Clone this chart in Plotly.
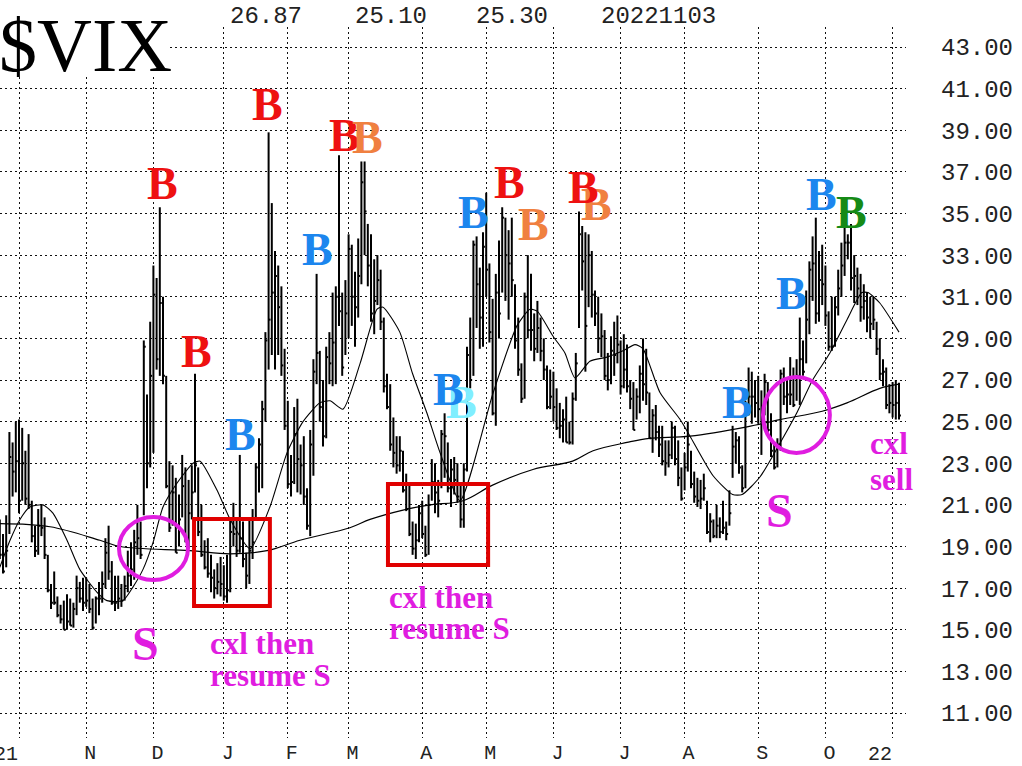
import plotly.graph_objects as go

# ---------------- data ----------------
month_labels = ["21", "N", "D", "J", "F", "M", "A", "M", "J", "J", "A", "S", "O", "22"]
month_lengths = [21, 21, 22, 20, 19, 23, 20, 21, 21, 20, 23, 21, 21]   # trading days Oct-21 .. Oct-22
first_day = -6                                                          # Sep 23 2021, relative to Oct 1 2021
last_date = "20221103"

vix_high = [
    20.3, 19.6, 20.5, 24.5, 24.0, 25.0,
    25.1, 24.7, 23.6, 24.4, 21.2, 20.0, 20.8, 21.0, 20.4, 18.6, 17.2, 17.8, 16.6, 16.2, 16.4, 16.7, 16.5, 16.3, 17.6, 17.3, 17.5,
    17.5, 17.2, 16.5, 16.6, 17.3, 17.8, 19.4, 20.0, 18.3, 17.6, 17.6, 17.2, 17.6, 18.8, 19.2, 19.8, 21.0, 20.2, 28.9, 26.3, 29.8,
    32.5, 31.9, 35.3, 31.0, 27.2, 23.1, 22.9, 22.3, 21.5, 23.4, 22.8, 22.2, 22.9, 27.3, 22.8, 21.0, 19.3, 19.4, 18.6, 17.9, 18.2, 18.5,
    18.1, 18.6, 20.3, 21.1, 20.4, 23.4, 20.2, 18.7, 20.3, 20.8, 23.0, 24.2, 26.0, 29.3, 38.9, 35.5, 33.2, 32.5, 31.5, 28.5,
    26.0, 23.4, 25.7, 26.1, 23.9, 24.3, 21.8, 24.6, 28.0, 32.1, 28.4, 27.0, 28.6, 29.3, 31.2, 31.5, 37.8, 31.2, 31.8,
    34.0, 33.5, 32.2, 33.8, 37.5, 37.5, 34.5, 34.0, 32.8, 33.0, 32.3, 30.0, 27.3, 26.8, 25.2, 24.3, 24.3, 23.6, 22.5, 22.1, 20.2, 20.1, 21.0,
    21.2, 20.0, 21.5, 23.2, 23.0, 22.2, 24.6, 25.4, 24.0, 23.2, 23.3, 23.0, 22.0, 23.0, 28.6, 30.0, 33.7, 33.9, 32.4, 34.1,
    36.0, 32.6, 30.9, 32.1, 33.7, 35.3, 34.8, 34.2, 34.8, 31.6, 30.0, 27.8, 31.2, 33.0, 32.1, 30.2, 30.8, 30.0, 29.0, 27.7, 27.5,
    27.4, 26.6, 25.9, 25.6, 26.2, 25.0, 26.4, 28.3, 35.1, 34.4, 34.1, 34.0, 33.2, 31.3, 31.0, 30.2, 29.4, 28.3, 29.1, 29.8, 30.1,
    28.9, 29.2, 28.7, 27.0, 26.9, 26.6, 27.7, 29.0, 28.5, 26.4, 25.6, 25.8, 24.8, 24.8, 24.1, 24.1, 25.0, 24.8, 24.1, 22.8,
    23.5, 25.0, 23.6, 22.6, 22.3, 22.2, 22.5, 21.2, 20.6, 20.3, 21.0, 20.4, 21.2, 20.2, 21.7, 24.8, 24.5, 24.3, 22.9, 26.0, 27.6, 27.4, 27.0,
    27.2, 26.5, 27.3, 26.9, 25.4, 23.9, 24.2, 27.5, 27.6, 27.1, 28.1, 27.6, 28.0, 30.0, 28.9, 31.3, 32.7, 33.9, 34.8, 33.2, 33.5,
    32.5, 30.3, 31.0, 31.0, 32.3, 33.6, 34.5, 34.0, 34.5, 33.0, 32.4, 32.1, 31.6, 31.2, 31.0, 31.0, 29.8, 29.0, 28.0, 27.6, 26.8,
    26.9, 27.0, 26.87,
]
vix_low = [
    18.4, 17.7, 18.0, 19.6, 21.4, 21.6,
    20.6, 21.2, 21.0, 20.8, 19.2, 18.5, 18.6, 19.5, 18.4, 16.8, 16.0, 16.2, 15.6, 15.3, 15.0, 15.0, 15.2, 15.1, 15.7, 16.3, 15.9,
    16.1, 15.8, 15.0, 15.3, 15.7, 16.3, 17.0, 17.4, 16.2, 15.9, 16.0, 16.1, 16.4, 16.8, 17.1, 17.4, 18.6, 18.4, 20.5, 21.8, 22.8,
    23.5, 27.5, 27.2, 26.8, 21.8, 19.7, 20.0, 18.7, 19.0, 20.4, 19.2, 18.9, 20.3, 21.6, 19.5, 18.5, 17.9, 17.5, 16.8, 16.5, 16.7, 16.6,
    16.4, 16.3, 16.8, 19.0, 18.5, 18.7, 18.0, 17.0, 17.2, 18.4, 20.4, 21.6, 21.8, 25.0, 27.5, 28.2, 27.5, 28.2, 27.2, 24.6,
    21.8, 21.4, 22.0, 21.6, 21.5, 21.0, 19.8, 19.5, 22.4, 26.8, 25.0, 23.8, 24.2, 26.8, 26.7, 26.8, 29.6, 27.2, 28.2,
    29.0, 29.6, 28.6, 30.0, 31.6, 33.0, 31.5, 29.8, 29.2, 30.6, 29.4, 26.4, 25.6, 23.6, 22.8, 22.5, 22.6, 21.6, 20.7, 19.5, 18.6, 18.4, 19.2,
    19.4, 18.5, 18.6, 21.2, 20.6, 20.4, 21.8, 22.3, 21.6, 20.9, 21.5, 21.1, 19.9, 19.9, 22.6, 26.6, 27.2, 29.5, 28.5, 28.6,
    31.0, 28.8, 25.3, 24.8, 29.0, 31.2, 30.8, 29.9, 31.0, 28.5, 27.2, 25.9, 26.1, 29.0, 28.4, 27.9, 28.3, 27.9, 27.0, 25.6, 25.6,
    25.0, 24.6, 24.2, 24.0, 24.0, 23.9, 23.9, 26.0, 29.5, 31.3, 27.4, 30.5, 30.0, 29.6, 28.3, 28.1, 27.0, 26.5, 26.8, 27.2, 27.8,
    26.3, 26.6, 26.4, 25.6, 24.6, 25.1, 25.4, 26.0, 25.8, 24.2, 23.5, 24.1, 23.3, 22.9, 22.4, 22.8, 23.2, 22.9, 21.9, 21.2,
    21.7, 22.6, 21.8, 21.1, 20.9, 20.8, 21.2, 19.6, 19.2, 19.4, 19.4, 19.4, 19.6, 19.3, 20.0, 22.3, 23.0, 22.5, 21.6, 21.8, 25.3, 24.9, 25.2,
    24.9, 23.4, 25.3, 24.5, 23.3, 22.7, 22.8, 23.6, 25.8, 25.4, 25.8, 25.7, 26.0, 25.8, 27.2, 27.8, 29.2, 30.8, 29.7, 29.8, 30.6,
    29.6, 28.4, 28.4, 28.6, 30.1, 31.0, 32.0, 32.8, 31.3, 30.7, 30.6, 29.8, 29.9, 29.3, 29.0, 29.4, 28.2, 27.0, 26.7, 25.6, 25.4,
    25.2, 25.1, 25.10,
]
vix_close = [
    18.6, 17.8, 18.8, 23.3, 22.6, 23.1,
    21.2, 23.0, 21.3, 21.0, 19.5, 18.8, 20.0, 19.9, 18.6, 16.9, 16.3, 16.3, 15.7, 15.5, 15.0, 15.4, 15.2, 16.0, 17.0, 16.5, 16.3,
    16.4, 16.0, 15.1, 16.5, 16.5, 17.2, 18.7, 17.8, 16.3, 16.3, 16.5, 16.4, 17.1, 17.6, 17.9, 19.2, 19.4, 18.6, 28.6, 23.0, 27.2,
    31.1, 28.0, 30.7, 27.2, 21.9, 19.9, 21.6, 18.7, 20.3, 21.9, 19.3, 20.6, 21.6, 22.9, 19.7, 18.6, 18.0, 17.7, 17.5, 17.0, 17.3, 17.2,
    16.6, 16.9, 19.7, 19.6, 18.8, 19.4, 18.4, 17.6, 18.8, 19.2, 22.8, 23.9, 25.6, 28.9, 29.9, 31.2, 32.0, 30.5, 27.7, 24.8,
    22.0, 22.1, 24.4, 23.2, 22.9, 21.4, 20.0, 23.9, 27.4, 28.3, 25.7, 24.3, 28.1, 27.8, 28.8, 31.0, 30.3, 27.6, 30.2,
    33.3, 31.0, 30.5, 32.0, 36.5, 35.1, 32.5, 30.2, 30.8, 31.8, 29.8, 26.7, 25.7, 23.9, 23.5, 22.9, 23.6, 21.7, 20.8, 19.6, 18.9, 19.3, 20.6,
    19.6, 18.6, 21.0, 22.1, 21.6, 21.2, 24.4, 24.3, 21.8, 22.7, 22.2, 21.4, 20.3, 22.7, 28.2, 27.0, 33.5, 31.6, 30.0, 33.4,
    32.3, 29.3, 25.4, 31.2, 30.2, 34.8, 33.0, 32.6, 31.8, 28.9, 27.5, 26.1, 31.0, 29.4, 29.4, 28.5, 29.5, 28.4, 27.5, 25.7, 26.2,
    25.7, 24.7, 24.8, 25.1, 24.0, 24.0, 26.1, 27.8, 34.0, 32.7, 29.6, 33.0, 31.1, 30.2, 29.0, 29.1, 27.2, 27.0, 28.4, 28.2, 28.7,
    26.7, 27.5, 26.7, 26.1, 24.6, 26.2, 27.3, 26.8, 26.4, 24.2, 25.3, 24.5, 23.9, 23.1, 23.0, 23.4, 24.7, 23.2, 22.3, 21.3,
    22.8, 23.9, 22.0, 21.4, 21.2, 21.3, 21.8, 19.7, 20.2, 19.5, 20.0, 19.7, 19.9, 19.6, 20.6, 23.8, 24.1, 22.8, 21.8, 25.6, 26.2, 26.2, 25.9,
    25.6, 25.5, 26.9, 24.6, 23.6, 22.8, 23.9, 27.3, 26.2, 26.3, 26.3, 25.8, 27.2, 28.0, 27.4, 29.9, 32.3, 32.6, 30.2, 31.8, 31.6,
    30.1, 28.6, 28.6, 30.5, 31.4, 32.5, 33.6, 33.6, 31.9, 32.0, 31.4, 30.5, 30.8, 30.0, 29.7, 29.9, 28.5, 27.3, 27.4, 25.8, 25.9,
    25.8, 25.9, 25.30,
]

# 20-day moving average
ma20_day = [-6, -2.8, 0.3, 3.4, 7.5, 10.6, 15, 19, 24.4, 27.5, 32.5, 35.6, 38.75, 41.9, 45, 49.4, 54.4, 56.6,
            61.9, 66, 72.2, 78.4, 83.75, 88.75, 94, 97.2, 101.25, 106.6, 111.9, 113.75, 119, 123, 127.5, 131.6,
            137.8, 148, 155.6, 159.7, 162, 166.9, 170.6, 173.75, 178.4, 183.75, 188.75, 192.5, 195, 200.3, 206.6,
            209.7, 216.9, 223, 226, 231.6, 237.8, 243, 248, 253.4, 258.75, 263.4, 265.3, 269, 275]
ma20_val = [18.0, 19.3, 20.3, 20.9, 21.0, 20.6, 19.3, 17.9, 16.8, 16.4, 16.4, 17.05, 17.9, 19.2, 20.9, 22.05, 23.0, 23.1,
            21.7, 20.3, 18.9, 20.9, 23.5, 25.0, 25.9, 26.0, 25.6, 27.8, 30.4, 30.5, 29.3, 27.3, 25.4, 23.5,
            21.2, 26.3, 29.6, 30.4, 30.3, 29.1, 28.3, 27.1, 27.9, 28.1, 28.4, 28.7, 28.5, 26.4, 25.1,
            24.3, 22.4, 21.5, 21.5, 22.35, 23.96, 25.4, 27.0, 28.3, 29.9, 31.2, 31.2, 30.7, 29.3]

# 200-day moving average
ma200_day = [-6, 9.7, 25.3, 31.6, 53.4, 66, 77.5, 87.8, 103.4, 109.7, 120, 128.4, 138.75, 148, 160.6, 173,
             179.4, 190, 197, 209.7, 227.5, 237.8, 251, 258.75, 269, 275]
ma200_val = [20.1, 19.95, 19.3, 19.0, 18.8, 18.65, 18.8, 19.3, 19.9, 20.3, 20.75, 21.0, 21.2, 21.95, 22.7, 23.1,
             23.6, 24.0, 24.2, 24.3, 24.75, 25.1, 25.5, 25.9, 26.6, 26.8]

y_ticks = list(range(11, 45, 2))

# ---------------- annotation content & placement ----------------
RED, BLUE, ORANGE, CYAN, GREEN, MAGENTA = "#ee1111", "#1c86ee", "#f08040", "#80eeff", "#168a16", "#e01de0"
buy_marks = [  # (day, level, colour) -- draw order matters for overlaps
    (44.7, 36.42, RED), (55.6, 28.35, RED), (69.1, 24.4, BLUE), (77.8, 40.26, RED), (93.4, 33.25, BLUE),
    (101.6, 38.77, RED), (108.75, 38.63, ORANGE), (138.4, 25.94, CYAN), (134.1, 26.52, BLUE),
    (141.9, 35.07, BLUE), (153.4, 36.51, RED), (160.9, 34.45, ORANGE), (180.6, 35.41, ORANGE),
    (176.25, 36.27, RED), (224.4, 25.9, BLUE), (241.25, 31.18, BLUE), (250.9, 35.89, BLUE), (260.3, 35.07, GREEN),
]
sell_marks = [(39.4, 14.36), (237.8, 20.71)]
notes = [("cxl then", 59.0, 14.36), ("resume S", 59.0, 12.78), ("cxl then", 115.0, 16.57),
         ("resume S", 115.0, 15.08), ("cxl", 265.3, 23.97), ("sell", 265.3, 22.24)]
circles = [(31.25, 17.39, 52.8, 20.42), (232.5, 23.49, 253.4, 27.14)]
boxes = [(54.7, 16.14, 78.4, 20.32), (115.3, 18.11, 146.6, 22.0)]

# ---------------- build figure ----------------
days = list(range(first_day, first_day + len(vix_close)))
month_starts = [0]
for n in month_lengths:
    month_starts.append(month_starts[-1] + n)

bar_x, bar_y, tick_x, tick_y = [], [], [], []
for d, h, l, c in zip(days, vix_high, vix_low, vix_close):
    bar_x += [d, d, None]
    bar_y += [l, h, None]
    tick_x += [d, d + 0.6, None]
    tick_y += [c, c, None]

fig = go.Figure()
fig.add_trace(go.Scatter(x=bar_x, y=bar_y, mode="lines", line=dict(color="black", width=2),
                         hoverinfo="skip", showlegend=False))
fig.add_trace(go.Scatter(x=tick_x, y=tick_y, mode="lines", line=dict(color="black", width=2),
                         hoverinfo="skip", showlegend=False))
fig.add_trace(go.Scatter(x=ma200_day, y=ma200_val, mode="lines", line=dict(color="black", width=1.2, shape="spline"),
                         showlegend=False))
fig.add_trace(go.Scatter(x=ma20_day, y=ma20_val, mode="lines", line=dict(color="black", width=1.1, shape="spline", smoothing=0.6),
                         showlegend=False))

W, H = 1022, 766
ML, MR, MT, MB = 0, 116, 27, 28
PW, PH = W - ML - MR, H - MT - MB
px_per_day = 3.2
x0_px = 19  # pixel of day 0
x_range = [(0 - x0_px) / px_per_day, (PW - x0_px) / px_per_day]
y_per_px = 2 / 41.625
y_range = [11 - (738 - 713) * y_per_px, 43 + (47 - 27) * y_per_px]

def px(x):
    return (x - ML) / PW

def py(y):
    return (H - MB - y) / PH

grid = dict(showgrid=True, gridcolor="#111", gridwidth=1.3, griddash="2px,3px", zeroline=False, showline=False,
            automargin=False, ticklabeloverflow="allow")
inner_labels = [t if 0 < i < len(month_labels) - 1 else "" for i, t in enumerate(month_labels)]
fig.update_layout(
    template="none",
    width=W, height=H, margin=dict(l=ML, r=MR, t=MT, b=MB, autoexpand=False),
    plot_bgcolor="white", paper_bgcolor="white",
    xaxis=dict(range=x_range, tickvals=month_starts, ticktext=inner_labels, ticks="",
               ticklabelshift=4, ticklabelstandoff=0,
               tickfont=dict(family="Liberation Mono", size=20, color="#222"), **grid),
    yaxis=dict(range=y_range, side="right", tickvals=y_ticks, ticktext=[f"{v:.2f}" for v in y_ticks], ticks="",
               ticklabelstandoff=34, tickfont=dict(family="Liberation Mono", size=24, color="#222"), **grid),
)

shapes = []
# white box behind title
shapes.append(dict(type="rect", xref="paper", yref="paper", x0=-0.01, x1=px(168), y0=py(77), y1=py(-5),
                   fillcolor="white", line=dict(width=0), layer="above"))
for (a, b, c, d) in circles:
    shapes.append(dict(type="circle", x0=a, y0=b, x1=c, y1=d, line=dict(color=MAGENTA, width=4), layer="above"))
for (a, b, c, d) in boxes:
    shapes.append(dict(type="rect", x0=a, y0=b, x1=c, y1=d, line=dict(color="#e00000", width=4), layer="above"))
fig.update_layout(shapes=shapes)

ann = []
ann.append(dict(text="$VIX", xref="paper", yref="paper", x=px(-3), y=py(45), xanchor="left", yanchor="middle",
                showarrow=False, font=dict(family="Liberation Serif", size=76, color="black")))
header = [f"{vix_high[-1]:.2f}", f"{vix_low[-1]:.2f}", f"{vix_close[-1]:.2f}", last_date]
for txt, xp in zip(header, [228, 353, 474, 599]):
    ann.append(dict(text=txt, xref="paper", yref="paper", x=px(xp), y=py(16), xanchor="left", yanchor="middle",
                    showarrow=False, font=dict(family="Liberation Mono", size=24, color="#222")))
# year labels sit just left of their gridline
for i in (0, len(month_labels) - 1):
    ann.append(dict(text=month_labels[i], x=month_starts[i] + 0.4, xref="x", yref="paper", y=py(754),
                    xanchor="right", yanchor="middle", showarrow=False,
                    font=dict(family="Liberation Mono", size=20, color="#222")))
for d, v, col in buy_marks:
    ann.append(dict(text="<b>B</b>", x=d, y=v, xanchor="center", yanchor="middle", showarrow=False,
                    font=dict(family="Liberation Serif", size=46, color=col)))
for d, v in sell_marks:
    ann.append(dict(text="<b>S</b>", x=d, y=v, xanchor="center", yanchor="middle", showarrow=False,
                    font=dict(family="Liberation Serif", size=48, color=MAGENTA)))
for txt, d, v in notes:
    ann.append(dict(text=f"<b>{txt}</b>", x=d, y=v, xanchor="left", yanchor="middle", showarrow=False,
                    font=dict(family="Liberation Serif", size=31, color=MAGENTA)))
fig.update_layout(annotations=ann)

fig.write_html("out.html", config={"displayModeBar": False},
               post_script="document.body.style.margin='0';document.body.style.overflow='hidden';")
